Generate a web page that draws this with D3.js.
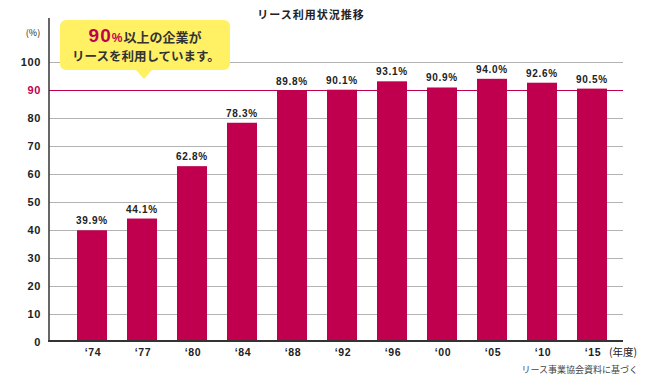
<!DOCTYPE html>
<html><head><meta charset="utf-8">
<script src="https://cdn.jsdelivr.net/npm/d3@7"></script>
<style>
html,body{margin:0;padding:0;background:#fff;}
svg{display:block;}
text{font-family:"Liberation Sans","Noto Sans CJK JP",sans-serif;}
.jp{font-family:"Noto Sans CJK JP",sans-serif;}
</style></head><body>
<svg id="chart" width="650" height="380"></svg>
<script>
const categories = ["‘74","‘77","‘80","‘84","‘88","‘92","‘96","‘00","‘05","‘10","‘15"];
const values = [39.9,44.1,62.8,78.3,89.8,90.1,93.1,90.9,94.0,92.6,90.5];
const yTicks = [0,10,20,30,40,50,60,70,80,90,100];
const refValue = 90;
const title = "リース利用状況推移";
const unitLabel = "(%)";
const xUnit = "(年度)";
const source = "リース事業協会資料に基づく";

const barColor = "#C0004F";
const textColor = "#222";
const svg = d3.select("#chart");

const x = d3.scaleBand().domain(categories).range([67,617]).paddingInner(0.4).paddingOuter(0.2);
const y = d3.scaleLinear().domain([0,100]).range([342,62]);
const left = 49, right = 623;

// gridlines
svg.append("g").selectAll("line").data(yTicks.filter(d=>d>0 && d!==refValue)).join("line")
  .attr("x1",left).attr("x2",right).attr("y1",d=>Math.round(y(d))+0.5).attr("y2",d=>Math.round(y(d))+0.5)
  .attr("stroke","#b3b3b3").attr("stroke-width",1);

// bars
svg.append("g").selectAll("rect").data(values).join("rect")
  .attr("x",(d,i)=>x(categories[i])).attr("width",x.bandwidth())
  .attr("y",d=>y(d)).attr("height",d=>y(0)-y(d)).attr("fill",barColor);

// 90 reference line
svg.append("line").attr("x1",left).attr("x2",right)
  .attr("y1",Math.round(y(refValue))+0.5).attr("y2",Math.round(y(refValue))+0.5)
  .attr("stroke",barColor).attr("stroke-width",1.2);

// axes lines
svg.append("line").attr("x1",left).attr("x2",left).attr("y1",18).attr("y2",y(0)).attr("stroke","#333").attr("stroke-width",1.5);
svg.append("line").attr("x1",left-0.75).attr("x2",right).attr("y1",y(0)-1).attr("y2",y(0)-1).attr("stroke","#333").attr("stroke-width",2);

// y tick labels
svg.append("g").selectAll("text").data(yTicks).join("text")
  .attr("x",41).attr("y",d=>y(d)+4).attr("text-anchor","end")
  .attr("font-size",11).attr("font-weight","bold").attr("letter-spacing",0.6)
  .attr("fill",d=>d===refValue?barColor:textColor).text(d=>d);

// value labels
svg.append("g").selectAll("text").data(values).join("text")
  .attr("x",(d,i)=>x(categories[i])+x.bandwidth()/2).attr("y",d=>y(d)-6)
  .attr("text-anchor","middle").attr("font-size",10).attr("font-weight","bold").attr("letter-spacing",0.7)
  .attr("fill",textColor).text(d=>d.toFixed(1)+"%");

// x labels
svg.append("g").selectAll("text").data(categories).join("text")
  .attr("x",d=>x(d)+x.bandwidth()/2+1).attr("y",356)
  .attr("text-anchor","middle").attr("font-size",10.5).attr("font-weight","bold").attr("letter-spacing",0.6)
  .attr("fill",textColor).text(d=>d);

svg.append("text").attr("class","jp").attr("x",623).attr("y",356).attr("text-anchor","middle")
  .attr("font-size",10.5).attr("fill",textColor).text(xUnit);

svg.append("text").attr("class","jp").attr("x",33).attr("y",36).attr("text-anchor","middle")
  .attr("font-size",9).attr("fill",textColor).text(unitLabel);

svg.append("text").attr("class","jp").attr("x",311).attr("y",19).attr("text-anchor","middle")
  .attr("font-size",11).attr("font-weight","bold").attr("letter-spacing",1).attr("fill",textColor).text(title);

svg.append("text").attr("class","jp").attr("x",638).attr("y",373).attr("text-anchor","end")
  .attr("font-size",9).attr("fill","#444").text(source);

// callout
const cx0=60, cx1=230, cy0=20, cy1=70, tipX=144, tipY=79;
const r=6;
const path = d3.path();
path.moveTo(cx0+r,cy0);
path.lineTo(cx1-r,cy0); path.arcTo(cx1,cy0,cx1,cy0+r,r);
path.lineTo(cx1,cy1-r); path.arcTo(cx1,cy1,cx1-r,cy1,r);
path.lineTo(tipX+8,cy1); path.lineTo(tipX,tipY); path.lineTo(tipX-8,cy1);
path.lineTo(cx0+r,cy1); path.arcTo(cx0,cy1,cx0,cy1-r,r);
path.lineTo(cx0,cy0+r); path.arcTo(cx0,cy0,cx0+r,cy0,r);
path.closePath();
svg.append("path").attr("d",path.toString()).attr("fill","#FFF064");

const t1 = svg.append("text").attr("x",145).attr("y",42).attr("text-anchor","middle").attr("class","jp");
t1.append("tspan").attr("font-size",19).attr("font-weight","bold").attr("fill",barColor)
  .attr("font-family","Liberation Sans").attr("letter-spacing",1).text("90");
t1.append("tspan").attr("font-size",12).attr("font-weight","bold").attr("fill",barColor)
  .attr("font-family","Liberation Sans").text("%");
t1.append("tspan").attr("font-size",13).attr("font-weight","bold").attr("fill","#333").attr("dx",1).text("以上の企業が");

svg.append("text").attr("class","jp").attr("x",146).attr("y",61).attr("text-anchor","middle")
  .attr("font-size",12.5).attr("font-weight","bold").attr("fill","#333").text("リースを利用しています。");
</script>
</body></html>
